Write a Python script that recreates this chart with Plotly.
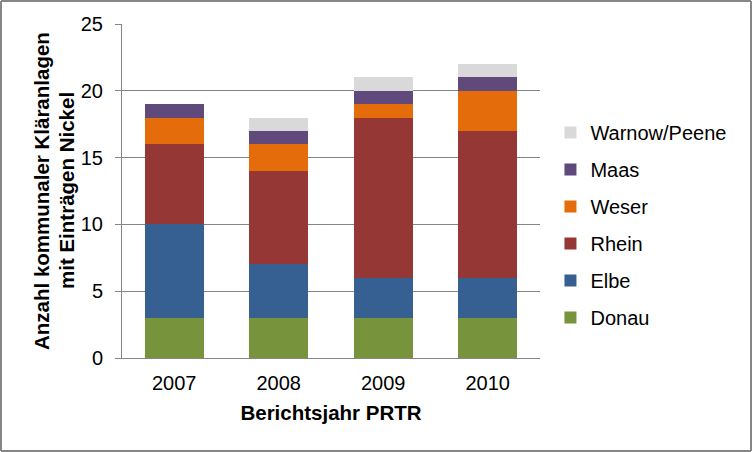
import plotly.graph_objects as go

# Daten
jahre = ["2007", "2008", "2009", "2010"]
donau = [3, 3, 3, 3]
elbe = [7, 4, 3, 3]
rhein = [6, 7, 12, 11]
weser = [2, 2, 1, 3]
maas = [1, 1, 1, 1]
warnow = [0, 1, 1, 1]
y_titel = ["Anzahl kommunaler Kläranlagen", "mit Einträgen Nickel"]

serien = [
    ("Donau", donau, "#77933C"),
    ("Elbe", elbe, "#376092"),
    ("Rhein", rhein, "#953735"),
    ("Weser", weser, "#E46C0A"),
    ("Maas", maas, "#604A7B"),
    ("Warnow/Peene", warnow, "#D9D9D9"),
]

fig = go.Figure()
for i, (name, vals, col) in enumerate(serien):
    fig.add_trace(go.Bar(
        x=jahre, y=vals, name=name, legendgroup=name,
        legendrank=100 - i,
        marker=dict(color=col, line=dict(width=0)),
    ))

# Plotbereich in Pixeln
L, R, T, B = 122, 212, 24, 94
W, H = 752, 452
pw, ph = W - L - R, H - T - B

# Rahmen um das ganze Bild
px0, px1 = (1 - L) / pw, (W - 1 - L) / pw
py0, py1 = (H - B - (H - 1)) / ph, (H - B - 1) / ph
rahmen = [
    dict(type="line", xref="paper", yref="paper", x0=a, x1=b, y0=c, y1=d,
         line=dict(color="#868686", width=2))
    for a, b, c, d in [(px0, px1, py0, py0), (px0, px1, py1, py1),
                       (px0, px0, py0, py1), (px1, px1, py0, py1)]
]

# y-Achsentitel als zwei gedrehte Zeilen (engerer Zeilenabstand als Plotly-Standard)
titel_annot = [
    dict(text=f"<b>{t}</b>", xref="paper", yref="paper",
         x=(xp - L) / pw, y=0.5, xanchor="center", yanchor="middle",
         textangle=-90, showarrow=False, font=dict(size=20.5))
    for t, xp in zip(y_titel, [41, 66])
]

fig.update_layout(
    width=W, height=H,
    barmode="stack", bargap=0.435,
    margin=dict(l=L, r=R, t=T, b=B, autoexpand=False),
    paper_bgcolor="white", plot_bgcolor="white",
    font=dict(family="Liberation Sans, Arial", size=18, color="black"),
    legend=dict(
        traceorder="grouped", tracegroupgap=8,
        x=1.025, xanchor="left", y=0.398, yanchor="middle",
        font=dict(size=20), itemwidth=30, bgcolor="rgba(0,0,0,0)",
    ),
    xaxis=dict(
        automargin=False,
        showgrid=False, showline=True, linecolor="#868686", linewidth=1,
        tickfont=dict(size=20), ticks="", ticklabelstandoff=7,
        title=dict(text="<b>Berichtsjahr PRTR</b>", font=dict(size=20.5), standoff=12),
    ),
    yaxis=dict(
        automargin=False,
        range=[0, 25], dtick=5, showgrid=True, gridcolor="#868686", gridwidth=1,
        showline=True, linecolor="#868686", linewidth=1,
        ticks="outside", ticklen=6, tickcolor="#868686", ticklabelstandoff=8,
        tickfont=dict(size=20), zeroline=False,
    ),
    shapes=rahmen,
    annotations=titel_annot,
)

# Standard-Rand des Browsers entfernen, damit die Grafik bei 0,0 beginnt
fig.write_html("out.html", config={"displayModeBar": False},
               post_script="document.body.style.margin='0';")
